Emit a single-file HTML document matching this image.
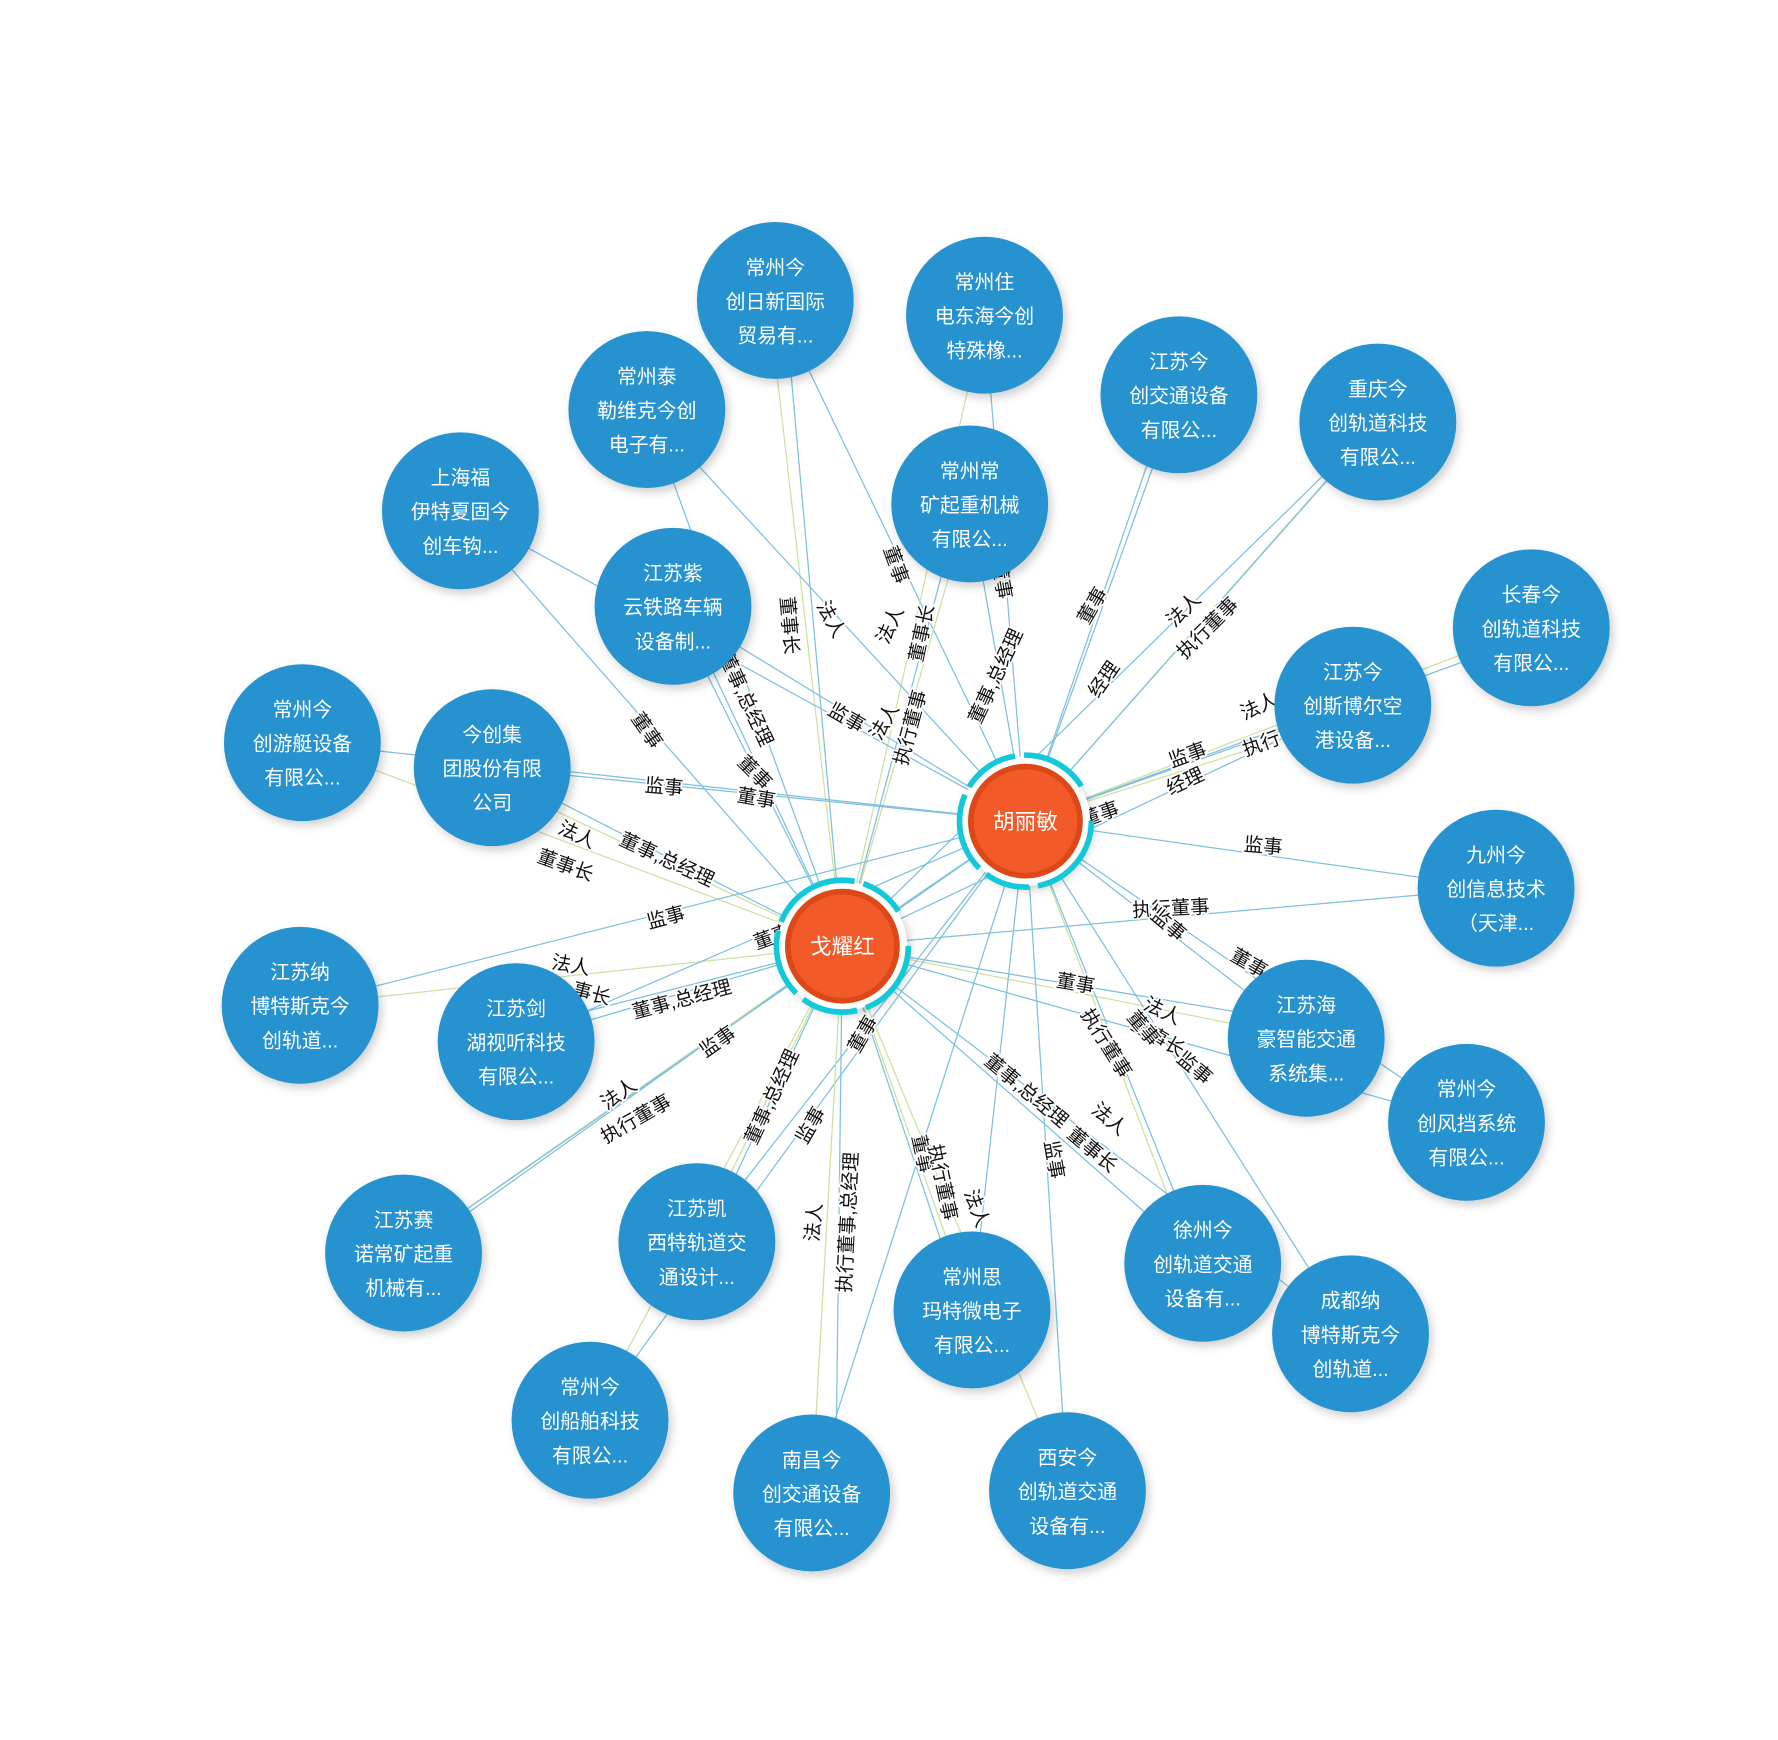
<!DOCTYPE html>
<html><head><meta charset="utf-8"><style>
html,body{margin:0;padding:0;background:#fff;}
svg{display:block;}
.n text{fill:#fff;font-size:17.5px;font-family:"Liberation Sans","Noto Sans CJK SC",sans-serif;text-anchor:middle;}
.l{font-size:17px;fill:#111;font-family:"Liberation Sans","Noto Sans CJK SC",sans-serif;text-anchor:middle;dominant-baseline:middle;stroke:#fff;stroke-width:3px;paint-order:stroke;}
.e line{stroke:#7ec0de;stroke-width:1.1;}
.e line.y{stroke:#cfe0a0;}
</style></head><body>
<svg width="1778" height="1740" viewBox="0 0 1564 1530" xmlns="http://www.w3.org/2000/svg">
<defs>
<filter id="sh" x="-30%" y="-30%" width="160%" height="160%"><feDropShadow dx="3" dy="4" stdDeviation="4" flood-color="#000" flood-opacity="0.18"/></filter>
</defs>
<g class="e">
<!-- H = 902,722 ; G = 741,832 -->
<line x1="902" y1="722" x2="682" y2="264"/><line x1="741" y1="832" x2="676" y2="264" class="y"/><line x1="741" y1="832" x2="690" y2="264"/>
<line x1="902" y1="722" x2="866" y2="277"/><line x1="741" y1="832" x2="866" y2="277" class="y"/>
<line x1="902" y1="722" x2="569" y2="360"/><line x1="741" y1="832" x2="569" y2="360"/>
<line x1="902" y1="722" x2="1037" y2="347"/><line x1="902" y1="722" x2="1030" y2="347"/>
<line x1="902" y1="722" x2="1212" y2="371" class="y"/><line x1="902" y1="722" x2="1205" y2="380"/><line x1="741" y1="832" x2="1212" y2="371"/>
<line x1="741" y1="832" x2="405" y2="449"/><line x1="902" y1="722" x2="405" y2="449"/>
<line x1="902" y1="722" x2="853" y2="443"/><line x1="741" y1="832" x2="853" y2="443" class="y"/><line x1="741" y1="832" x2="845" y2="443"/>
<line x1="902" y1="722" x2="592" y2="533"/><line x1="741" y1="832" x2="592" y2="533"/><line x1="741" y1="832" x2="600" y2="533"/>
<line x1="902" y1="722" x2="1347" y2="552" class="y"/><line x1="902" y1="722" x2="1347" y2="560"/>
<line x1="902" y1="722" x2="1190" y2="620"/><line x1="741" y1="832" x2="1190" y2="620"/><line x1="902" y1="722" x2="1190" y2="630" class="y"/>
<line x1="741" y1="832" x2="266" y2="653" class="y"/><line x1="902" y1="722" x2="266" y2="653"/>
<line x1="902" y1="722" x2="433" y2="675"/><line x1="741" y1="832" x2="433" y2="675"/><line x1="741" y1="832" x2="440" y2="690" class="y"/>
<line x1="902" y1="722" x2="1316" y2="781"/><line x1="741" y1="832" x2="1316" y2="781"/>
<line x1="902" y1="722" x2="264" y2="884"/><line x1="741" y1="832" x2="264" y2="884" class="y"/>
<line x1="741" y1="832" x2="454" y2="916"/><line x1="902" y1="722" x2="454" y2="916"/><line x1="741" y1="832" x2="454" y2="905"/>
<line x1="902" y1="722" x2="1149" y2="913"/><line x1="741" y1="832" x2="1149" y2="913" class="y"/><line x1="741" y1="832" x2="1149" y2="900"/>
<line x1="902" y1="722" x2="1290" y2="987"/><line x1="741" y1="832" x2="1290" y2="987"/>
<line x1="741" y1="832" x2="355" y2="1102" class="y"/><line x1="741" y1="832" x2="362" y2="1102"/><line x1="902" y1="722" x2="355" y2="1102"/>
<line x1="741" y1="832" x2="613" y2="1092" class="y"/><line x1="902" y1="722" x2="613" y2="1092"/><line x1="741" y1="832" x2="620" y2="1092"/>
<line x1="902" y1="722" x2="1058" y2="1111"/><line x1="741" y1="832" x2="1058" y2="1111"/><line x1="902" y1="722" x2="1050" y2="1111" class="y"/>
<line x1="902" y1="722" x2="1188" y2="1173"/><line x1="741" y1="832" x2="1188" y2="1173"/>
<line x1="902" y1="722" x2="855" y2="1152"/><line x1="741" y1="832" x2="855" y2="1152" class="y"/><line x1="741" y1="832" x2="848" y2="1152"/>
<line x1="741" y1="832" x2="519" y2="1249" class="y"/><line x1="902" y1="722" x2="519" y2="1249"/>
<line x1="741" y1="832" x2="714" y2="1313" class="y"/><line x1="902" y1="722" x2="714" y2="1313"/><line x1="741" y1="832" x2="735" y2="1313"/>
<line x1="902" y1="722" x2="939" y2="1311"/><line x1="741" y1="832" x2="939" y2="1311" class="y"/>
<line x1="902" y1="722" x2="741" y2="832"/>
</g>
<g>
<text class="l" transform="translate(787,497) rotate(70)">董事</text>
<text class="l" transform="translate(693,550) rotate(85)">董事长</text>
<text class="l" transform="translate(730,545) rotate(62)">法人</text>
<text class="l" transform="translate(784,550) rotate(-65)">法人</text>
<text class="l" transform="translate(812,557) rotate(-78)">董事长</text>
<text class="l" transform="translate(880,510) rotate(80)">董事</text>
<text class="l" transform="translate(877,595) rotate(-65)">董事,总经理</text>
<text class="l" transform="translate(962,533) rotate(-60)">董事</text>
<text class="l" transform="translate(972,598) rotate(-55)">经理</text>
<text class="l" transform="translate(1042,537) rotate(-45)">法人</text>
<text class="l" transform="translate(1063,553) rotate(-45)">执行董事</text>
<text class="l" transform="translate(1108,622) rotate(-25)">法人</text>
<text class="l" transform="translate(1110,655) rotate(-20)">执行</text>
<text class="l" transform="translate(1045,665) rotate(-20)">监事</text>
<text class="l" transform="translate(1043,688) rotate(-25)">经理</text>
<text class="l" transform="translate(968,717) rotate(-20)">董事</text>
<text class="l" transform="translate(1111,745) rotate(5)">监事</text>
<text class="l" transform="translate(1030,800) rotate(-3)">执行董事</text>
<text class="l" transform="translate(1027,814) rotate(40)">监事</text>
<text class="l" transform="translate(1098,848) rotate(30)">董事</text>
<text class="l" transform="translate(946,866) rotate(10)">董事</text>
<text class="l" transform="translate(1022,890) rotate(25)">法人</text>
<text class="l" transform="translate(1018,913) rotate(30)">董事长</text>
<text class="l" transform="translate(1050,940) rotate(40)">监事</text>
<text class="l" transform="translate(1005,905) rotate(50)">董事</text>
<text class="l" transform="translate(972,918) rotate(58)">执行董事</text>
<text class="l" transform="translate(902,960) rotate(40)">董事,总经理</text>
<text class="l" transform="translate(975,985) rotate(40)">法人</text>
<text class="l" transform="translate(960,1012) rotate(40)">董事长</text>
<text class="l" transform="translate(926,1020) rotate(80)">监事</text>
<text class="l" transform="translate(858,1063) rotate(70)">法人</text>
<text class="l" transform="translate(810,1015) rotate(78)">董事</text>
<text class="l" transform="translate(828,1040) rotate(78)">执行董事</text>
<text class="l" transform="translate(747,1075) rotate(-87)">执行董事,总经理</text>
<text class="l" transform="translate(717,1075) rotate(-85)">法人</text>
<text class="l" transform="translate(714,990) rotate(-60)">监事</text>
<text class="l" transform="translate(680,965) rotate(-65)">董事,总经理</text>
<text class="l" transform="translate(760,910) rotate(-60)">董事</text>
<text class="l" transform="translate(632,917) rotate(-35)">监事</text>
<text class="l" transform="translate(545,963) rotate(-35)">法人</text>
<text class="l" transform="translate(560,985) rotate(-30)">执行董事</text>
<text class="l" transform="translate(600,880) rotate(-15)">董事,总经理</text>
<text class="l" transform="translate(502,850) rotate(10)">法人</text>
<text class="l" transform="translate(520,875) rotate(15)">事长</text>
<text class="l" transform="translate(586,808) rotate(-15)">监事</text>
<text class="l" transform="translate(680,825) rotate(-20)">董事</text>
<text class="l" transform="translate(497,762) rotate(20)">董事长</text>
<text class="l" transform="translate(507,735) rotate(25)">法人</text>
<text class="l" transform="translate(586,757) rotate(25)">董事,总经理</text>
<text class="l" transform="translate(584,693) rotate(5)">监事</text>
<text class="l" transform="translate(665,703) rotate(10)">董事</text>
<text class="l" transform="translate(663,680) rotate(45)">董事</text>
<text class="l" transform="translate(568,643) rotate(55)">董事</text>
<text class="l" transform="translate(655,615) rotate(65)">董事,总经理</text>
<text class="l" transform="translate(744,632) rotate(30)">监事</text>
<text class="l" transform="translate(779,635) rotate(-60)">法人</text>
<text class="l" transform="translate(802,640) rotate(-75)">执行董事</text>
</g>
<g class="n">
<g filter="url(#sh)" fill="#2592cf">
<circle cx="682" cy="264" r="69"/><circle cx="866" cy="277" r="69"/><circle cx="569" cy="360" r="69"/>
<circle cx="1037" cy="347" r="69"/><circle cx="1212" cy="371" r="69"/><circle cx="405" cy="449" r="69"/>
<circle cx="853" cy="443" r="69"/><circle cx="592" cy="533" r="69"/><circle cx="1347" cy="552" r="69"/>
<circle cx="1190" cy="620" r="69"/><circle cx="266" cy="653" r="69"/><circle cx="433" cy="675" r="69"/>
<circle cx="1316" cy="781" r="69"/><circle cx="264" cy="884" r="69"/><circle cx="454" cy="916" r="69"/>
<circle cx="1149" cy="913" r="69"/><circle cx="1290" cy="987" r="69"/><circle cx="355" cy="1102" r="69"/>
<circle cx="613" cy="1092" r="69"/><circle cx="1058" cy="1111" r="69"/><circle cx="1188" cy="1173" r="69"/>
<circle cx="855" cy="1152" r="69"/><circle cx="519" cy="1249" r="69"/><circle cx="714" cy="1313" r="69"/>
<circle cx="939" cy="1311" r="69"/>
</g>
<text x="682" y="241">常州今</text><text x="682" y="271">创日新国际</text><text x="682" y="301">贸易有...</text>
<text x="866" y="254">常州住</text><text x="866" y="284">电东海今创</text><text x="866" y="314">特殊橡...</text>
<text x="569" y="337">常州泰</text><text x="569" y="367">勒维克今创</text><text x="569" y="397">电子有...</text>
<text x="1037" y="324">江苏今</text><text x="1037" y="354">创交通设备</text><text x="1037" y="384">有限公...</text>
<text x="1212" y="348">重庆今</text><text x="1212" y="378">创轨道科技</text><text x="1212" y="408">有限公...</text>
<text x="405" y="426">上海福</text><text x="405" y="456">伊特夏固今</text><text x="405" y="486">创车钩...</text>
<text x="853" y="420">常州常</text><text x="853" y="450">矿起重机械</text><text x="853" y="480">有限公...</text>
<text x="592" y="510">江苏紫</text><text x="592" y="540">云铁路车辆</text><text x="592" y="570">设备制...</text>
<text x="1347" y="529">长春今</text><text x="1347" y="559">创轨道科技</text><text x="1347" y="589">有限公...</text>
<text x="1190" y="597">江苏今</text><text x="1190" y="627">创斯博尔空</text><text x="1190" y="657">港设备...</text>
<text x="266" y="630">常州今</text><text x="266" y="660">创游艇设备</text><text x="266" y="690">有限公...</text>
<text x="433" y="652">今创集</text><text x="433" y="682">团股份有限</text><text x="433" y="712">公司</text>
<text x="1316" y="758">九州今</text><text x="1316" y="788">创信息技术</text><text x="1316" y="818">（天津...</text>
<text x="264" y="861">江苏纳</text><text x="264" y="891">博特斯克今</text><text x="264" y="921">创轨道...</text>
<text x="454" y="893">江苏剑</text><text x="454" y="923">湖视听科技</text><text x="454" y="953">有限公...</text>
<text x="1149" y="890">江苏海</text><text x="1149" y="920">豪智能交通</text><text x="1149" y="950">系统集...</text>
<text x="1290" y="964">常州今</text><text x="1290" y="994">创风挡系统</text><text x="1290" y="1024">有限公...</text>
<text x="355" y="1079">江苏赛</text><text x="355" y="1109">诺常矿起重</text><text x="355" y="1139">机械有...</text>
<text x="613" y="1069">江苏凯</text><text x="613" y="1099">西特轨道交</text><text x="613" y="1129">通设计...</text>
<text x="1058" y="1088">徐州今</text><text x="1058" y="1118">创轨道交通</text><text x="1058" y="1148">设备有...</text>
<text x="1188" y="1150">成都纳</text><text x="1188" y="1180">博特斯克今</text><text x="1188" y="1210">创轨道...</text>
<text x="855" y="1129">常州思</text><text x="855" y="1159">玛特微电子</text><text x="855" y="1189">有限公...</text>
<text x="519" y="1226">常州今</text><text x="519" y="1256">创船舶科技</text><text x="519" y="1286">有限公...</text>
<text x="714" y="1290">南昌今</text><text x="714" y="1320">创交通设备</text><text x="714" y="1350">有限公...</text>
<text x="939" y="1288">西安今</text><text x="939" y="1318">创轨道交通</text><text x="939" y="1348">设备有...</text>
</g>
<g>
<circle cx="902" cy="722" r="57" fill="#fff" filter="url(#sh)"/>
<circle cx="902" cy="722" r="58" fill="none" stroke="#13c9d9" stroke-width="5" stroke-dasharray="80 8 40 8 70 8 50 8 60 32"/>
<circle cx="902" cy="722" r="48" fill="#f25a29" stroke="#dc4818" stroke-width="5"/>
<text x="902" y="729" fill="#fff" font-size="19" text-anchor="middle" font-family="Liberation Sans,Noto Sans CJK SC,sans-serif">胡丽敏</text>
<circle cx="741" cy="832" r="57" fill="#fff" filter="url(#sh)"/>
<circle cx="741" cy="832" r="58" fill="none" stroke="#13c9d9" stroke-width="5" stroke-dasharray="70 8 50 8 60 8 80 8 40 32"/>
<circle cx="741" cy="832" r="48" fill="#f25a29" stroke="#dc4818" stroke-width="5"/>
<text x="741" y="839" fill="#fff" font-size="19" text-anchor="middle" font-family="Liberation Sans,Noto Sans CJK SC,sans-serif">戈耀红</text>
</g>
</svg>
</body></html>
